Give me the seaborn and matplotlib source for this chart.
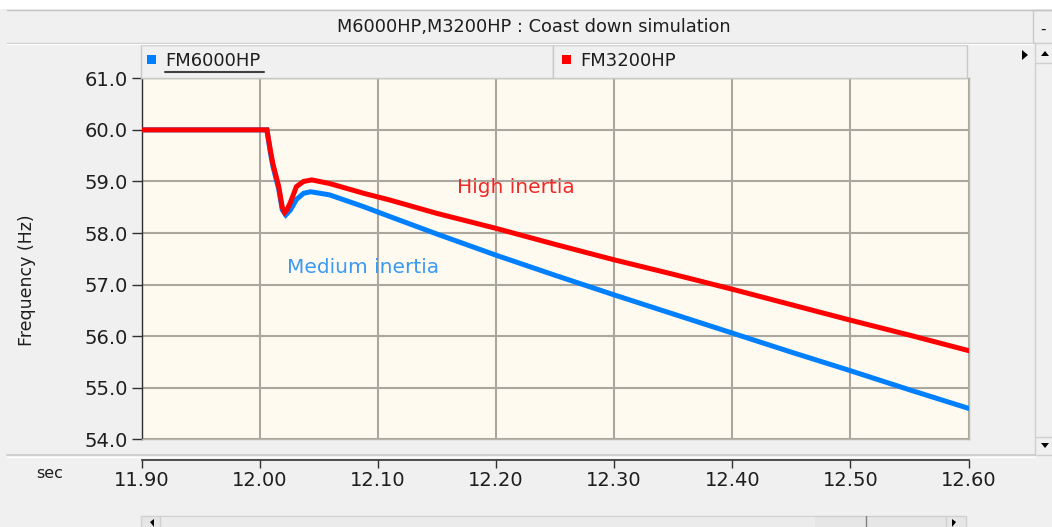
import numpy as np
import pandas as pd
import matplotlib
matplotlib.use("Agg")
import matplotlib.pyplot as plt
from matplotlib.patches import Rectangle, Polygon
from matplotlib.lines import Line2D
import seaborn as sns

# ---------------- data ----------------
title = "M6000HP,M3200HP : Coast down simulation"
series_names = ["FM6000HP", "FM3200HP"]

time_6000 = [11.90, 12.006, 12.009, 12.011, 12.016, 12.019, 12.022, 12.026, 12.031,
             12.037, 12.043, 12.059, 12.088, 12.11, 12.15, 12.20, 12.25, 12.30,
             12.35, 12.40, 12.45, 12.50, 12.55, 12.60]
freq_6000 = [60.0, 60.0, 59.55, 59.30, 58.85, 58.45, 58.35, 58.45, 58.65,
             58.77, 58.80, 58.74, 58.51, 58.32, 57.98, 57.57, 57.18, 56.80,
             56.43, 56.06, 55.69, 55.33, 54.96, 54.60]

time_3200 = [11.90, 12.006, 12.009, 12.011, 12.016, 12.019, 12.021, 12.023, 12.026,
             12.031, 12.037, 12.044, 12.059, 12.088, 12.11, 12.15, 12.20, 12.25,
             12.30, 12.35, 12.40, 12.45, 12.50, 12.55, 12.60]
freq_3200 = [60.0, 60.0, 59.60, 59.35, 58.90, 58.50, 58.40, 58.45, 58.60,
             58.90, 59.00, 59.03, 58.96, 58.77, 58.64, 58.38, 58.09, 57.78,
             57.48, 57.20, 56.91, 56.61, 56.31, 56.02, 55.72]

x_ticks = [11.90, 12.00, 12.10, 12.20, 12.30, 12.40, 12.50, 12.60]
x_tick_labels = ["11.90", "12.00", "12.10", "12.20", "12.30", "12.40", "12.50", "12.60"]
y_ticks = [54.0, 55.0, 56.0, 57.0, 58.0, 59.0, 60.0, 61.0]
y_tick_labels = ["54.0", "55.0", "56.0", "57.0", "58.0", "59.0", "60.0", "61.0"]
annotations = [("High inertia", 12.167, 58.88), ("Medium inertia", 12.023, 57.33)]

# ---------------- style ----------------
W, H = 1052, 527
BG = "#F0F0F0"
PLOT_BG = "#FFFAF0"
BLUE = "#0080FF"
RED = "#FF0000"
TXT = "#1E1E1E"
GRID = "#ABA69E"

sns.set_theme(style="white")
plt.rcParams["font.family"] = ["DejaVu Sans"]

fig = plt.figure(figsize=(W / 100, H / 100), dpi=100, facecolor=BG)


def fx(x):
    return x / W


def fy(y):
    return 1 - y / H


def rect(x0, y0, x1, y1, **kw):
    fig.patches.append(Rectangle((fx(x0), fy(y1)), fx(x1) - fx(x0), fy(y0) - fy(y1),
                                 transform=fig.transFigure, **kw))


def hline(x0, x1, y, **kw):
    fig.lines.append(Line2D([fx(x0), fx(x1)], [fy(y), fy(y)], transform=fig.transFigure, **kw))


def vline(x, y0, y1, **kw):
    fig.lines.append(Line2D([fx(x), fx(x)], [fy(y0), fy(y1)], transform=fig.transFigure, **kw))


def tri(points):
    fig.patches.append(Polygon([[fx(a), fy(b)] for a, b in points], closed=True,
                               transform=fig.transFigure, facecolor="black", edgecolor="none"))


# window chrome
rect(0, 0, W, 9, facecolor="white", edgecolor="none")
hline(7, W, 9.5, color="#C4C4C4", lw=1)
hline(7, 1033, 43, color="#C8C8C8", lw=1)
hline(7, 1033, 44, color="white", lw=1)
rect(1033, 10, W + 2, 43, facecolor="#F0F0F0", edgecolor="#C8C8C8", lw=1)
fig.text(fx(1043), fy(29), "-", ha="center", va="center", fontsize=11, color=TXT)
fig.text(fx(534), fy(27), title, ha="center", va="center", fontsize=12.8, color=TXT)

# legend cells
rect(141, 45, 553, 78, facecolor="#F0F0F0", edgecolor="#C8C8C8", lw=1)
rect(553, 45, 967, 78, facecolor="#F0F0F0", edgecolor="#C8C8C8", lw=1)
rect(147, 55, 156, 64, facecolor=BLUE, edgecolor="none")
rect(562, 55, 571, 64, facecolor=RED, edgecolor="none")
fig.text(fx(165), fy(61), series_names[0], ha="left", va="center", fontsize=13, color=TXT)
fig.text(fx(580), fy(61), series_names[1], ha="left", va="center", fontsize=13, color=TXT)
hline(165, 264, 71.5, color="#404040", lw=1.5)
tri([(1022, 50), (1022, 60), (1028, 55)])

# right scrollbar
rect(1035, 43, W + 2, 455, facecolor="#F0F0F0", edgecolor="#D0D0D0", lw=1)
hline(1035, W, 63, color="#D0D0D0", lw=1)
hline(1035, W, 437, color="#D0D0D0", lw=1)
tri([(1041, 56), (1049, 56), (1045, 51)])
tri([(1041, 443), (1049, 443), (1045, 448)])

# separator below plot
hline(7, 1035, 455, color="#C8C8C8", lw=1.2)
hline(7, 1035, 456.5, color="white", lw=1)

# bottom scrollbar
rect(141, 516, 966, H + 2, facecolor="#E6E6E6", edgecolor="#D0D0D0", lw=1)
rect(160, 517, 815, H + 2, facecolor="#EBEBEB", edgecolor="none")
vline(866, 516, H, color="#808080", lw=1)
vline(160, 516, H, color="#D0D0D0", lw=1)
vline(946, 516, H, color="#D0D0D0", lw=1)
tri([(150, 522), (154, 519), (154, 527)])
tri([(956, 522), (952, 519), (952, 527)])

# ---------------- main axes ----------------
L, R, T, B = 141.7, 968.5, 78.3, 439.3
ax = fig.add_axes([fx(L), fy(B), fx(R) - fx(L), (B - T) / H])
ax.set_facecolor(PLOT_BG)

df6 = pd.DataFrame({"time": time_6000, "freq": freq_6000})
df3 = pd.DataFrame({"time": time_3200, "freq": freq_3200})
sns.lineplot(data=df6, x="time", y="freq", ax=ax, color=BLUE, lw=3.6, zorder=3,
             solid_joinstyle="miter", estimator=None, sort=False)
sns.lineplot(data=df3, x="time", y="freq", ax=ax, color=RED, lw=3.6, zorder=4,
             solid_joinstyle="miter", estimator=None, sort=False)

ax.set_xlim(11.90, 12.60)
ax.set_ylim(54.0, 61.0)
ax.set_xticks(x_ticks)
ax.set_yticks(y_ticks)
ax.set_yticklabels(y_tick_labels)
ax.set_xticklabels([])
ax.grid(True, color=GRID, lw=1.5)
ax.set_axisbelow(True)
ax.tick_params(axis="y", direction="out", length=7, width=1, color="#303030",
               labelsize=14, labelcolor=TXT, pad=3, left=True)
ax.tick_params(axis="x", length=0)
for s in ["top", "right", "bottom"]:
    ax.spines[s].set_color("#B8B4AC")
    ax.spines[s].set_linewidth(1)
ax.spines["left"].set_color("#303030")
ax.spines["left"].set_linewidth(1)
ax.set_xlabel("")
ax.set_ylabel("Frequency (Hz)", fontsize=12.5, color=TXT)
ax.yaxis.set_label_coords(-0.1278, 0.441)

ax.text(annotations[0][1], annotations[0][2], annotations[0][0], color="#F02828",
        fontsize=14.5, ha="left", va="center")
ax.text(annotations[1][1], annotations[1][2], annotations[1][0], color="#3A99F0",
        fontsize=14.5, ha="left", va="center")

# ---------------- separate x axis strip ----------------
ax2 = fig.add_axes([fx(L), fy(459.5), fx(R) - fx(L), 0.0001])
ax2.set_facecolor("none")
ax2.set_xlim(11.90, 12.60)
ax2.set_xticks(x_ticks)
ax2.set_xticklabels(x_tick_labels)
ax2.set_yticks([])
for s in ["top", "right", "left"]:
    ax2.spines[s].set_visible(False)
ax2.spines["bottom"].set_color("#303030")
ax2.spines["bottom"].set_linewidth(1.2)
ax2.tick_params(axis="x", direction="out", length=6, width=1, color="#303030",
                labelsize=14, labelcolor=TXT, pad=2, bottom=True)
fig.text(fx(50), fy(473), "sec", ha="center", va="center", fontsize=11.5, color=TXT)

fig.savefig("out.png", dpi=100, facecolor=BG)
